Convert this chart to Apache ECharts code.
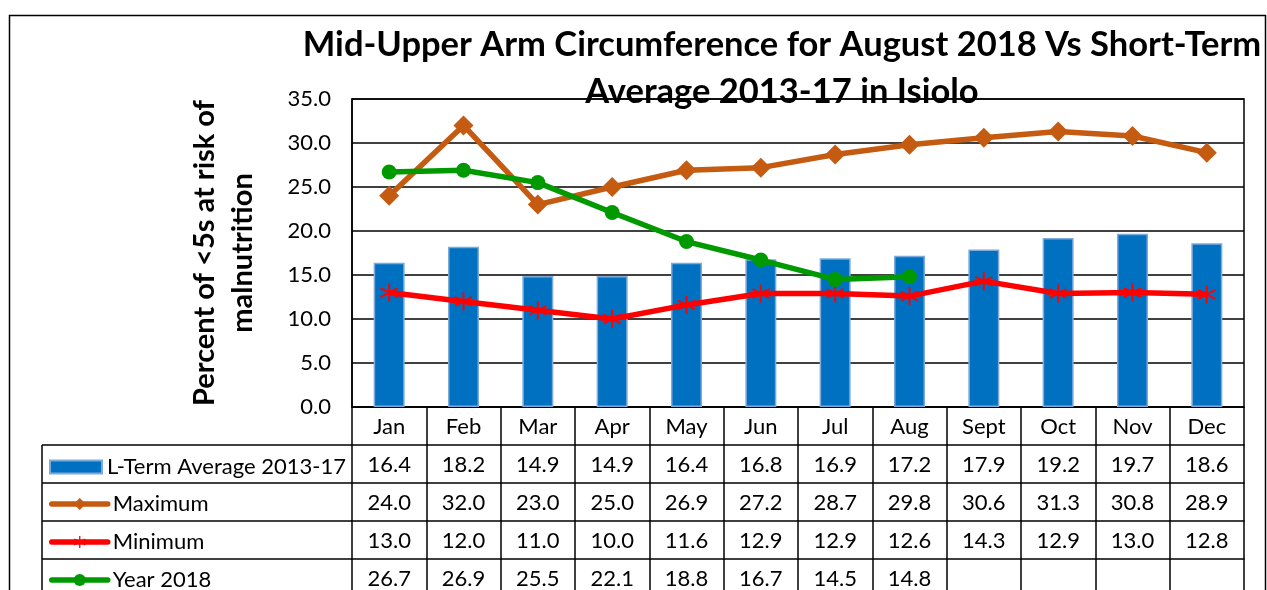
<!DOCTYPE html>
<html>
<head>
<meta charset="utf-8">
<script src="https://cdn.jsdelivr.net/npm/echarts@6/dist/echarts.min.js"></script>
<style>
  html, body { margin: 0; padding: 0; background: #fff; }
  #main { width: 1267px; height: 590px; }
</style>
</head>
<body>
<div id="main"></div>
<script>
  var months = ['Jan', 'Feb', 'Mar', 'Apr', 'May', 'Jun', 'Jul', 'Aug', 'Sept', 'Oct', 'Nov', 'Dec'];
  var ltAvg = [16.4, 18.2, 14.9, 14.9, 16.4, 16.8, 16.9, 17.2, 17.9, 19.2, 19.7, 18.6];
  var maxVals = [24.0, 32.0, 23.0, 25.0, 26.9, 27.2, 28.7, 29.8, 30.6, 31.3, 30.8, 28.9];
  var minVals = [13.0, 12.0, 11.0, 10.0, 11.6, 12.9, 12.9, 12.6, 14.3, 12.9, 13.0, 12.8];
  var year2018 = [26.7, 26.9, 25.5, 22.1, 18.8, 16.7, 14.5, 14.8, null, null, null, null];
  var yTicks = [0, 5, 10, 15, 20, 25, 30, 35];
  var seriesNames = ['L-Term Average 2013-17', 'Maximum', 'Minimum', 'Year 2018'];

  var FONT = 'Lato';
  var FS = 22;
  var ROW_H = 38;
  var starPath = 'path://M1,-10 L1,10 L-1,10 L-1,-10 Z ' +
    'M-8.16,-5.87 L9.16,4.13 L8.16,5.87 L-9.16,-4.13 Z ' +
    'M9.16,-4.13 L-8.16,5.87 L-9.16,4.13 L8.16,-5.87 Z';

  var myChart = echarts.init(document.getElementById('main'));

  function fmt(v) { return v == null ? '' : v.toFixed(1); }

  var lineCommon = { color: '#000', width: 1.5 };

  // one category axis per table row, stacked under the plot
  function rowAxis(values, idx) {
    return {
      type: 'category',
      position: 'bottom',
      offset: ROW_H * idx,
      data: values.map(fmt),
      axisLine: { show: true, lineStyle: lineCommon },
      axisTick: { show: true, length: ROW_H, interval: 0, lineStyle: lineCommon },
      axisLabel: { interval: 0, margin: 9, fontSize: FS, color: '#000', fontFamily: FONT }
    };
  }

  // legend cell of each table row
  function rowLegend(name, idx, extra) {
    var l = {
      orient: 'vertical',
      left: 44,
      top: 445 + ROW_H * idx + 5,
      itemWidth: 56,
      itemHeight: 15,
      textStyle: { fontSize: FS, color: '#000', fontFamily: FONT },
      lineStyle: { width: 5.5, cap: 'round' },
      data: [name]
    };
    return Object.assign(l, extra || {});
  }

  var tableLines = [];
  [445, 483, 521, 559].forEach(function (y) {
    tableLines.push({
      type: 'line', shape: { x1: 42, y1: y, x2: 352, y2: y },
      style: { stroke: '#000', lineWidth: 1.5 }
    });
  });
  tableLines.push({
    type: 'line', shape: { x1: 42, y1: 445, x2: 42, y2: 600 },
    style: { stroke: '#000', lineWidth: 1.5 }
  });

  var option = {
    animation: false,
    textStyle: { fontFamily: FONT },
    graphic: [
      {
        type: 'rect', z: -1, silent: true,
        shape: { x: 9.5, y: 15.5, width: 1256, height: 600 },
        style: { fill: 'none', stroke: '#000', lineWidth: 1.5 }
      },
      {
        type: 'text', z: 10,
        x: 782, y: 21,
        style: {
          text: 'Mid-Upper Arm Circumference for August 2018 Vs Short-Term\nAverage 2013-17 in Isiolo',
          font: 'bold 34.5px ' + FONT,
          fill: '#000',
          align: 'center',
          lineHeight: 47
        }
      }
    ].concat(tableLines),
    legend: [
      rowLegend(seriesNames[0], 0, { icon: 'rect', itemWidth: 52, itemHeight: 13, top: 445 + 6 }),
      rowLegend(seriesNames[1], 1),
      rowLegend(seriesNames[2], 2),
      rowLegend(seriesNames[3], 3)
    ],
    grid: {
      left: 352, right: 23, top: 99, bottom: 183,
      show: true, borderColor: '#000', borderWidth: 1.5
    },
    xAxis: [
      {
        type: 'category',
        position: 'bottom',
        data: months,
        axisLine: { show: true, lineStyle: lineCommon },
        axisTick: { show: true, length: ROW_H, interval: 0, lineStyle: lineCommon },
        axisLabel: { interval: 0, margin: 9, fontSize: FS, color: '#000', fontFamily: FONT }
      },
      rowAxis(ltAvg, 1),
      rowAxis(maxVals, 2),
      rowAxis(minVals, 3),
      rowAxis(year2018, 4)
    ],
    yAxis: {
      type: 'value',
      min: yTicks[0],
      max: yTicks[yTicks.length - 1],
      interval: 5,
      name: 'Percent of <5s at risk of\nmalnutrition',
      nameLocation: 'middle',
      nameRotate: 90,
      nameGap: 90,
      nameTextStyle: { fontSize: 29, fontWeight: 'bold', color: '#000', lineHeight: 38, fontFamily: FONT },
      axisLine: { show: true, lineStyle: lineCommon },
      axisTick: { show: false },
      splitLine: { show: true, lineStyle: lineCommon },
      axisLabel: {
        margin: 21, fontSize: FS, color: '#000', fontFamily: FONT,
        formatter: function (v) { return v.toFixed(1); }
      }
    },
    series: [
      {
        name: seriesNames[0],
        type: 'bar',
        data: ltAvg,
        barWidth: 31,
        itemStyle: { color: '#0070C0', borderColor: '#7EAADB', borderWidth: 1.5 },
        z: 1
      },
      {
        name: seriesNames[1],
        type: 'line',
        data: maxVals,
        symbol: 'diamond',
        symbolSize: 20,
        lineStyle: { color: '#C55A11', width: 5.5 },
        itemStyle: { color: '#C55A11' },
        z: 3
      },
      {
        name: seriesNames[2],
        type: 'line',
        data: minVals,
        symbol: starPath,
        symbolSize: 18,
        lineStyle: { color: '#FF0000', width: 5.5 },
        itemStyle: { color: '#FF0000' },
        z: 3
      },
      {
        name: seriesNames[3],
        type: 'line',
        data: year2018,
        symbol: 'circle',
        symbolSize: 15,
        lineStyle: { color: '#009A00', width: 5.5 },
        itemStyle: { color: '#009A00' },
        z: 4
      }
    ]
  };

  myChart.setOption(option);
  window.onresize = function () {
    myChart.resize();
  };
</script>
</body>
</html>
